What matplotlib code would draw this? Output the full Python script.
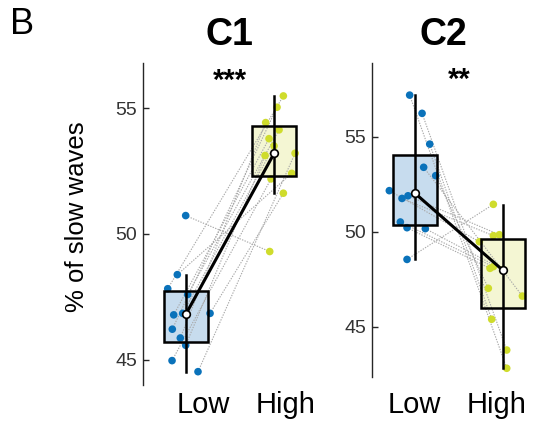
import matplotlib
matplotlib.use("Agg")
import matplotlib.pyplot as plt
from matplotlib.patches import Rectangle

plt.rcParams['font.family'] = ['Liberation Sans', 'DejaVu Sans']

conditions = ["Low", "High"]
panels = ["C1", "C2"]
stars = ["***", "**"]

# C1 individual values (paired: index i in low pairs with index i in high)
c1_low = [50.73, 48.38, 47.82, 47.59, 46.78, 46.84, 46.84, 46.21, 45.86, 45.57, 44.96, 44.52]
c1_high = [49.30, 52.41, 55.49, 54.14, 53.79, 53.50, 51.62, 55.04, 54.43, 53.12, 52.19, 53.21]
c1_low_jit = [-0.004, -0.099, -0.208, 0.019, -0.140, -0.038, 0.273, -0.156, -0.065, -0.004, -0.159, 0.136]
c1_high_jit = [-0.049, 0.201, 0.106, 0.057, -0.057, 0.0, 0.106, 0.034, -0.095, -0.102, -0.034, 0.239]

# C2 individual values
c2_low = [57.19, 56.23, 54.61, 53.39, 52.95, 52.16, 51.75, 51.89, 50.51, 50.21, 50.16, 48.54]
c2_high = [42.81, 43.77, 45.39, 46.61, 47.02, 49.47, 49.79, 49.84, 48.16, 48.07, 48.00, 51.44]
c2_low_jit = [-0.061, 0.080, 0.167, 0.098, 0.235, -0.292, -0.148, -0.080, -0.167, -0.091, 0.117, -0.091]
c2_high_jit = [0.042, 0.042, -0.129, 0.220, -0.167, -0.269, -0.110, -0.042, -0.110, -0.148, 0.0, -0.110]

# summary stats [Low, High]
c1_mean = [46.82, 53.20]
c1_box_lo = [45.70, 52.30]
c1_box_hi = [47.72, 54.30]
c1_wh_lo = [44.52, 51.64]
c1_wh_hi = [48.37, 55.50]

c2_mean = [52.02, 47.96]
c2_box_lo = [50.35, 45.98]
c2_box_hi = [54.02, 49.61]
c2_wh_lo = [48.56, 42.81]
c2_wh_hi = [57.19, 51.42]

yticks_c1 = [45, 50, 55]
yticks_c2 = [45, 50, 55]

W, H = 534, 426
fig = plt.figure(figsize=(W / 100, H / 100), dpi=100)

pt_col = ["#0a72ba", "#cfdc2c"]
box_col = ["#c7dcee", "#f4f6d3"]
axis_col = "#262626"

def draw(ax, low, high, ljit, hjit, mean, blo, bhi, wlo, whi):
    xs = [1, 2]
    bw = 0.5
    for i in range(2):
        ax.add_patch(Rectangle((xs[i] - bw / 2, blo[i]), bw, bhi[i] - blo[i],
                               facecolor=box_col[i], edgecolor='none', zorder=1))
    for a, b, ja, jb in zip(low, high, ljit, hjit):
        ax.plot([1 + ja, 2 + jb], [a, b], ls=(0, (1.2, 1.2)), color="#a8a8a8", lw=0.8, zorder=2)
    ax.scatter([1 + j for j in ljit], low, s=30, color=pt_col[0], edgecolor='none', zorder=3)
    ax.scatter([2 + j for j in hjit], high, s=30, color=pt_col[1], edgecolor='none', zorder=3)
    for i in range(2):
        ax.add_patch(Rectangle((xs[i] - bw / 2, blo[i]), bw, bhi[i] - blo[i],
                               facecolor='none', edgecolor='black', lw=1.8, zorder=4))
        ax.plot([xs[i], xs[i]], [wlo[i], whi[i]], color='black', lw=1.8, zorder=4)
    ax.plot(xs, mean, color='black', lw=2.2, zorder=5)
    ax.plot(xs, mean, ls='none', marker='o', ms=5.5, mfc='white', mec='black', mew=1.2, zorder=6)
    for s in ['top', 'right', 'bottom']:
        ax.spines[s].set_visible(False)
    ax.spines['left'].set_color(axis_col)
    ax.spines['left'].set_linewidth(1.0)
    ax.tick_params(axis='y', direction='in', length=4, width=1, colors=axis_col,
                   labelsize=14, labelcolor="#333333", pad=4)
    ax.tick_params(axis='x', length=0, labelsize=21, labelcolor='black')

# C1 axes
ax1 = fig.add_axes([143 / W, (H - 385) / H, 192 / W, 322 / H])
draw(ax1, c1_low, c1_high, c1_low_jit, c1_high_jit, c1_mean, c1_box_lo, c1_box_hi, c1_wh_lo, c1_wh_hi)
ax1.set_xlim(0.511, 0.511 + 192 / 88)
ax1.set_ylim(43.99, 56.80)
ax1.set_yticks(yticks_c1)
ax1.set_xticks([1.193, 2.136])
ax1.set_xticklabels(conditions)
ax1.tick_params(axis='x', pad=4)

# C2 axes
ax2 = fig.add_axes([372 / W, (H - 377) / H, 162 / W, 314 / H])
draw(ax2, c2_low, c2_high, c2_low_jit, c2_high_jit, c2_mean, c2_box_lo, c2_box_hi, c2_wh_lo, c2_wh_hi)
ax2.set_xlim(0.511, 0.511 + 162 / 88)
ax2.set_ylim(42.35, 58.88)
ax2.set_yticks(yticks_c2)
ax2.set_xticks([0.988, 1.931])
ax2.set_xticklabels(conditions)
ax2.tick_params(axis='x', pad=10)

# titles and stars
fig.text(229 / W, 1 - 35 / H, panels[0], fontsize=27, fontweight='bold', ha='center', va='center')
fig.text(443 / W, 1 - 35 / H, panels[1], fontsize=27, fontweight='bold', ha='center', va='center')
fig.text(230 / W, 1 - 81 / H, stars[0], fontsize=21, fontweight='bold', ha='center', va='center')
fig.text(459 / W, 1 - 80 / H, stars[1], fontsize=21, fontweight='bold', ha='center', va='center')
fig.text(10 / W, 1 - 24 / H, "B", fontsize=26, ha='left', va='center')
fig.text(77 / W, 1 - 217 / H, "% of slow waves", fontsize=18.5, rotation=90, ha='center', va='center')

fig.savefig("out.png", dpi=100)
